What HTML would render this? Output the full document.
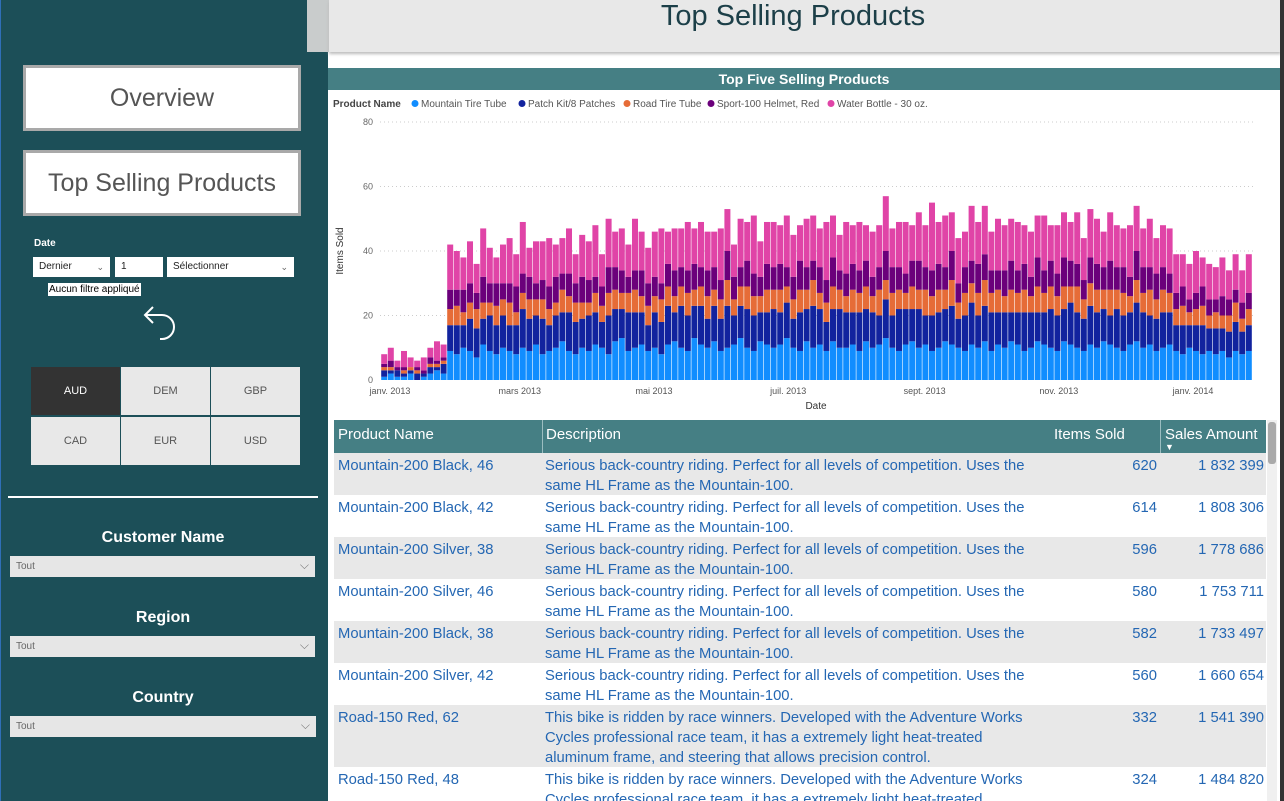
<!DOCTYPE html>
<html><head><meta charset="utf-8">
<style>
*{box-sizing:border-box;margin:0;padding:0}
html,body{width:1284px;height:801px;overflow:hidden}
body{background:#fff;font-family:"Liberation Sans",sans-serif;position:relative}
.abs{position:absolute}
#side{left:0;top:0;width:328px;height:801px;background:#1c4f58}
.navbtn{position:absolute;left:23px;width:278px;height:66px;background:#fff;border:3px solid #a9a9a9;color:#555;font-size:25px;text-align:center;line-height:60px}
.dd{position:absolute;background:#fff;height:20px;font-size:10px;color:#222;padding-left:6px;line-height:20px}
.chev{position:absolute;right:6px;top:0;color:#666;font-size:9px}
.cur{position:absolute;width:89px;height:48px;background:#e8e8e8;color:#555;font-size:11px;text-align:center;line-height:48px}
.flbl{position:absolute;left:10px;width:306px;text-align:center;color:#fff;font-weight:bold;font-size:16px}
.fdd{position:absolute;left:10px;width:305px;height:21px;background:#e6e6e6;font-size:10px;color:#666;padding-left:6px;line-height:21px}
.fdd span{position:absolute;right:6px;top:-1px;font-size:12px;color:#777}
.row{position:absolute;left:334px;width:932px;font-size:14.8px;color:#2467b3;line-height:20px;overflow:hidden}
.row div{position:absolute;top:3px;white-space:nowrap}
</style></head><body>
<div id="side" class="abs">
  <div class="abs" style="left:0;top:0;width:1px;height:801px;background:#2f6fb8"></div>
  <div class="navbtn" style="top:65px">Overview</div>
  <div class="navbtn" style="top:150px">Top Selling Products</div>
  <div class="abs" style="left:34px;top:238px;color:#fff;font-size:10px;font-weight:bold">Date</div>
  <div class="dd" style="left:33px;top:257px;width:77px">Dernier<span class="chev">⌄</span></div>
  <div class="dd" style="left:115px;top:257px;width:48px">1</div>
  <div class="dd" style="left:167px;top:257px;width:127px">Sélectionner<span class="chev">⌄</span></div>
  <div class="abs" style="left:48px;top:283px;background:#fff;color:#000;font-size:10px;padding:0 1px;height:13px;line-height:13px">Aucun filtre appliqué</div>
  <svg class="abs" style="left:140px;top:302px" width="40" height="42"><path d="M6 13 H22 A11 11 0 0 1 22 37 H20" fill="none" stroke="#fff" stroke-width="2"/><path d="M13 5 L5 13 L13 21" fill="none" stroke="#fff" stroke-width="2"/></svg>
  <div class="cur" style="left:31px;top:367px;background:#333;color:#fff">AUD</div>
  <div class="cur" style="left:121px;top:367px">DEM</div>
  <div class="cur" style="left:211px;top:367px">GBP</div>
  <div class="cur" style="left:31px;top:417px">CAD</div>
  <div class="cur" style="left:121px;top:417px">EUR</div>
  <div class="cur" style="left:211px;top:417px">USD</div>
  <div class="abs" style="left:8px;top:496px;width:310px;height:2px;background:#fff"></div>
  <div class="flbl" style="top:529px">Customer Name</div>
  <div class="fdd" style="top:556px">Tout<span>⌵</span></div>
  <div class="flbl" style="top:609px">Region</div>
  <div class="fdd" style="top:636px">Tout<span>⌵</span></div>
  <div class="flbl" style="top:689px">Country</div>
  <div class="fdd" style="top:716px;width:306px">Tout<span>⌵</span></div>
</div>
<div class="abs" style="left:307px;top:0;width:22px;height:52px;background:#c9cccc"></div>
<div class="abs" style="left:329px;top:0;width:952px;height:52px;background:#e8e8e8;box-shadow:0 2px 3px #bbb"></div>
<div class="abs" style="left:313px;top:0;width:960px;color:#1c3f48;font-size:29px;text-align:center;line-height:32px">Top Selling Products</div>
<div class="abs" style="left:328px;top:68px;width:952px;height:22px;background:#457f84;color:#fff;font-weight:bold;font-size:14px;text-align:center;line-height:22px">Top Five Selling Products</div>
<div class="abs" style="left:1280px;top:0;width:4px;height:801px;background:#333"></div>

<svg id="chart" class="abs" style="left:0;top:0" width="1284" height="801"></svg>

<div class="abs" style="left:334px;top:420px;width:932px;height:33px;background:#457f84;color:#fff;font-size:15px">
  <div class="abs" style="left:4px;top:6px">Product Name</div>
  <div class="abs" style="left:208px;top:0;border-left:1px solid #9bbdc0;height:33px;padding:6px 3px">Description</div>
  <div class="abs" style="left:720px;top:6px">Items Sold</div>
  <div class="abs" style="left:826px;top:0;border-left:1px solid #9bbdc0;height:33px;padding:6px 4px">Sales Amount<div style="font-size:9px;line-height:8px">▼</div></div>
</div>
<div id="rows"></div>
<div class="abs" style="left:1267px;top:420px;width:10px;height:381px;background:#f0f0f0"><div style="margin:2px 1px;height:42px;background:#aaa;border-radius:3px"></div></div>

<script>
const products=["Mountain-200 Black, 46","Mountain-200 Black, 42","Mountain-200 Silver, 38","Mountain-200 Silver, 46","Mountain-200 Black, 38","Mountain-200 Silver, 42","Road-150 Red, 62","Road-150 Red, 48"];
const itemsSold=["620","614","596","580","582","560","332","324"];
const sales=["1 832 399","1 808 306","1 778 686","1 753 711","1 733 497","1 660 654","1 541 390","1 484 820"];
const mtbDesc="Serious back-country riding. Perfect for all levels of competition. Uses the<br>same HL Frame as the Mountain-100.";
const roadDesc="This bike is ridden by race winners. Developed with the Adventure Works<br>Cycles professional race team, it has a extremely light heat-treated<br>aluminum frame, and steering that allows precision control.";
const rowsEl=document.getElementById('rows');
let y=453;
products.forEach((p,i)=>{
  const road=p.startsWith('Road');
  const h=road?62:42;
  const r=document.createElement('div');
  r.className='row';
  r.style.top=y+'px';r.style.height=Math.min(h,801-y)+'px';
  r.style.background=i%2===0?'#e8e8e8':'#fff';
  
  
  r.innerHTML='<div style="left:4px">'+p+'</div><div style="left:211px">'+(road?roadDesc:mtbDesc)+'</div><div style="right:109px">'+itemsSold[i]+'</div><div style="right:2px">'+sales[i]+'</div>';
  rowsEl.appendChild(r);
  y+=h;
});
</script>
<script>
const seriesNames=["Mountain Tire Tube","Patch Kit/8 Patches","Road Tire Tube","Sport-100 Helmet, Red","Water Bottle - 30 oz."];
const seriesColors=["#118dff","#12239e","#e66c37","#6b007b","#e044a7"];
const mountainTire=[1,2,1,1,2,0,1,2,3,2,9,8,
10,9,7,11,9,8,10,9,8,10,9,11,
8,9,10,12,9,8,10,9,11,10,8,12,
13,9,10,11,9,10,8,11,12,10,9,13,
11,10,12,9,10,11,13,10,9,12,11,10,
11,13,10,9,12,10,11,9,12,10,10,11,
9,12,10,11,13,10,9,11,12,10,11,9,
10,12,11,10,9,11,10,12,9,11,10,12,
11,9,10,12,11,10,9,12,11,10,9,11,
10,12,11,10,9,11,12,10,11,9,10,11,
9,8,10,9,8,9,8,9,7,9,8,9];
const patchKit=[2,1,2,1,1,2,1,2,1,3,8,9,
7,10,9,8,11,9,10,8,9,12,10,9,
11,8,10,9,12,10,9,11,10,8,12,10,
9,12,11,10,8,11,10,12,9,13,11,10,
12,9,11,10,13,9,10,12,11,9,10,12,
10,11,9,12,10,13,11,9,10,12,11,10,
12,10,11,9,12,10,13,11,10,12,9,11,
11,10,12,9,11,13,10,11,12,10,11,9,
10,12,11,9,10,12,11,10,13,11,10,12,
11,10,9,12,11,10,12,11,9,10,11,10,
8,9,7,8,9,7,8,7,8,9,7,8];
const roadTire=[1,1,0,1,1,1,0,1,1,1,5,6,
4,5,6,5,4,6,5,7,4,5,6,5,
6,5,4,7,5,6,5,4,6,5,7,6,
5,6,7,5,6,5,7,6,5,6,7,5,
6,7,5,6,8,5,6,7,6,5,7,6,
7,5,6,7,6,8,5,6,7,6,5,7,
6,7,5,8,6,7,6,5,7,6,8,6,
7,6,8,5,7,6,7,8,6,7,5,7,
6,7,5,8,6,7,6,7,5,8,6,7,
7,6,8,6,7,5,7,6,8,6,7,6,
5,6,4,5,6,4,5,4,5,6,4,5];
const helmet=[1,2,1,1,0,1,1,2,1,1,6,5,
7,6,5,8,6,7,5,6,8,6,7,5,
6,7,8,5,7,6,8,7,5,6,8,7,
7,5,6,8,7,6,5,7,8,6,7,8,
6,8,7,6,9,7,6,8,7,6,8,7,
8,6,7,9,7,6,8,7,9,6,7,8,
7,8,6,7,9,8,7,6,8,9,7,8,
8,7,9,6,8,7,9,8,7,6,8,9,
7,8,6,9,7,8,7,9,8,7,6,8,
8,7,9,7,8,6,9,8,7,8,7,6,
5,6,4,5,6,5,4,6,5,4,5,5];
const waterBottle=[3,4,2,5,3,2,4,3,6,4,14,12,
10,13,9,15,11,8,12,14,10,16,9,13,
12,15,10,11,14,9,13,12,16,10,15,11,
13,10,16,12,11,14,17,10,13,12,15,11,
14,12,11,16,13,10,15,12,18,11,13,14,
12,16,13,11,15,14,12,18,13,11,16,12,
15,11,14,13,17,12,14,16,11,15,13,21,
13,16,12,14,11,17,13,15,12,16,14,13,
15,12,14,13,17,11,15,14,12,16,13,15,
14,11,15,13,12,16,14,12,15,11,13,14,
12,10,11,13,9,11,10,12,9,11,10,12];
const yTicks=[0,20,40,60,80];
const xTickLabels=["janv. 2013","mars 2013","mai 2013","juil. 2013","sept. 2013","nov. 2013","janv. 2014"];
const xTickDays=[0,59,120,181,243,304,365];

const NS="http://www.w3.org/2000/svg";
const svg=document.getElementById('chart');
const X0=390, PXD=2.2, DAYS_PER_BAR=3, FIRST_DAY=-4;
const Y0=380, Y1=122;
const xDay=d=>X0+d*PXD;
const yVal=v=>Y0-(v/80)*(Y0-Y1);
function el(t,a){const e=document.createElementNS(NS,t);for(const k in a)e.setAttribute(k,a[k]);svg.appendChild(e);return e;}
const bg=el('rect',{x:328,y:90,width:952,height:325,fill:'#fff'});


yTicks.forEach(v=>{
  if(v>0){const g=el('line',{x1:380,x2:1253,y1:yVal(v),y2:yVal(v),stroke:'#ccc','stroke-dasharray':'1,3'});
  
  }
  const t=el('text',{x:373,y:yVal(v)+3,'text-anchor':'end','font-size':9,fill:'#666','font-family':'Liberation Sans'});
  t.textContent=v;
  
  
});
xTickLabels.forEach((s,i)=>{
  const t=el('text',{x:xDay(xTickDays[i]),y:394,'text-anchor':'middle','font-size':9,fill:'#555','font-family':'Liberation Sans'});
  t.textContent=s;
  
  
});
const xt=el('text',{x:816,y:409,'text-anchor':'middle','font-size':10,fill:'#333','font-family':'Liberation Sans'});
xt.textContent='Date';


const yt=el('text',{x:0,y:0,'text-anchor':'middle','font-size':10,fill:'#333','font-family':'Liberation Sans',transform:'translate(343,251) rotate(-90)'});
yt.textContent='Items Sold';


const lt=el('text',{x:333,y:107,'font-size':10,'font-weight':'bold',fill:'#444','font-family':'Liberation Sans'});
lt.textContent='Product Name';


const legX=[414,521,626,710,830];
seriesNames.forEach((n,i)=>{
  const c=el('circle',{cx:legX[i]+1,cy:103.5,r:3.5,fill:seriesColors[i]});
  
  
  const t=el('text',{x:legX[i]+7,y:107,'font-size':10,fill:'#555','font-family':'Liberation Sans'});
  t.textContent=n;
  
  
});
const series=[mountainTire,patchKit,roadTire,helmet,waterBottle];
const bw=DAYS_PER_BAR*PXD;
for(let i=0;i<mountainTire.length;i++){
  let acc=0;
  const xs=xDay(FIRST_DAY+i*DAYS_PER_BAR);
  series.forEach((s,k)=>{
    const v=s[i];
    const r=el('rect',{x:xs,y:yVal(acc+v),width:bw-0.6,height:yVal(acc)-yVal(acc+v),fill:seriesColors[k]});
    
    
    acc+=v;
  });
}
</script>
</body></html>
